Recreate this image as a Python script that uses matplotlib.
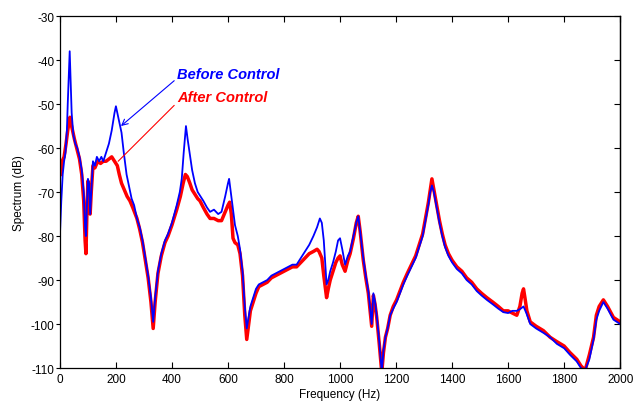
import numpy as np
import matplotlib.pyplot as plt

plt.rcParams['font.family'] = ['Liberation Sans', 'DejaVu Sans']
plt.rcParams['axes.unicode_minus'] = False

# Before control (blue) - frequency (Hz), level (dB)
freq_before = [0, 5, 10, 15, 20, 25, 28, 32, 35, 38, 42, 48, 55, 62, 70, 78, 85, 90, 93, 96,
               100, 104, 108, 112, 118, 125, 132, 140, 148, 155, 165, 175, 185, 195, 200, 205,
               212, 220, 228, 238, 248, 256, 265, 275, 285, 295, 305, 315, 325, 333, 340, 350,
               362, 375, 386, 400, 417, 428, 435, 442, 450, 456, 464, 472, 482, 492, 500, 512,
               525, 536, 550, 565, 577, 590, 600, 604, 610, 618, 625, 635, 643, 652, 660, 667,
               672, 680, 690, 700, 710, 725, 740, 755, 770, 785, 800, 815, 830, 845, 860, 875,
               890, 905, 918, 928, 935, 942, 948, 952, 958, 965, 975, 985, 993, 1000, 1008,
               1018, 1028, 1036, 1048, 1058, 1065, 1072, 1083, 1092, 1101, 1108, 1113, 1119,
               1125, 1131, 1140, 1149, 1155, 1162, 1170, 1179, 1190, 1202, 1214, 1226, 1240,
               1255, 1270, 1285, 1295, 1305, 1315, 1322, 1328, 1335, 1345, 1355, 1365, 1375,
               1387, 1400, 1417, 1435, 1452, 1470, 1488, 1505, 1524, 1545, 1565, 1583, 1600,
               1615, 1631, 1645, 1655, 1665, 1679, 1700, 1726, 1750, 1774, 1800, 1821, 1845,
               1860, 1875, 1890, 1905, 1915, 1925, 1940, 1955, 1976, 2000]
level_before = [-80, -72, -66, -63, -61, -56, -50, -43, -38, -44, -52, -57, -59, -60, -62, -65,
                -70, -78, -80, -74, -67, -68, -75, -70, -63, -64, -62, -63, -62, -63, -61, -59,
                -56, -52, -50.5, -52, -54, -56.5, -61, -66, -69, -71.5, -73, -76, -78, -81, -85,
                -89, -94, -99.5, -94, -88, -84, -81, -79.5, -77, -73, -70, -67, -61, -55, -58,
                -61.5, -65, -68, -70, -70.8, -72, -73.5, -74.5, -74, -75, -74.5, -71, -68, -67,
                -70, -74, -77.5, -80, -83, -88, -96, -101, -99, -96, -94, -92, -91, -90.5, -90,
                -89, -88.5, -88, -87.5, -87, -86.5, -86.5, -85, -83.5, -82, -80, -78, -76, -77,
                -81, -87, -91, -90, -88, -86, -83.5, -81, -80.5, -83, -86.5, -84.5, -83.5, -80,
                -77, -75.5, -79, -85, -89, -92.5, -97, -100, -93, -95, -98, -104, -111, -106,
                -103, -101, -98, -96.5, -95, -93, -91, -89, -87, -85, -82, -80, -76.5, -73, -70,
                -68.5, -70, -73.5, -77, -80, -82.5, -84.5, -86, -87.5, -88.5, -90, -91, -92.5,
                -93.5, -94.5, -95.5, -96.5, -97.3, -97.5, -97, -97, -96.5, -96, -97.5, -100,
                -101, -102, -103, -104.5, -105.5, -107, -108.5, -110, -110.5, -108, -103.5, -99,
                -97, -95, -96.5, -99, -100]

# After control (red)
freq_after = [3, 8, 15, 22, 28, 33, 36, 40, 45, 52, 60, 70, 78, 85, 90, 93, 96, 100, 104, 108,
              112, 118, 125, 135, 145, 155, 165, 175, 185, 195, 205, 212, 220, 230, 240, 250,
              260, 275, 285, 295, 305, 315, 325, 333, 340, 350, 362, 375, 386, 400, 417, 430,
              440, 448, 455, 464, 472, 482, 492, 500, 512, 525, 536, 550, 565, 577, 590, 600,
              606, 612, 618, 625, 635, 643, 652, 660, 667, 672, 680, 690, 700, 710, 725, 740,
              755, 770, 785, 800, 815, 830, 845, 860, 875, 890, 905, 918, 925, 935, 942, 948,
              952, 958, 965, 975, 985, 993, 1000, 1008, 1018, 1028, 1036, 1048, 1058, 1065,
              1072, 1083, 1092, 1101, 1108, 1113, 1119, 1125, 1131, 1140, 1149, 1155, 1162,
              1170, 1179, 1190, 1202, 1214, 1226, 1240, 1255, 1270, 1285, 1295, 1305, 1315,
              1322, 1328, 1335, 1345, 1355, 1365, 1375, 1387, 1400, 1417, 1435, 1452, 1470,
              1488, 1505, 1524, 1545, 1565, 1583, 1600, 1615, 1631, 1642, 1650, 1655, 1660,
              1667, 1679, 1700, 1726, 1750, 1774, 1800, 1821, 1845, 1860, 1875, 1890, 1905,
              1915, 1925, 1940, 1955, 1976, 2000]
level_after = [-66, -63, -62, -59, -56, -54, -53, -54.5, -56, -58, -60, -62.5, -66, -72, -81,
               -84, -76, -67.5, -69, -75, -70, -64, -64.5, -63, -63.5, -63, -63, -62.5, -62,
               -63, -64, -66, -68, -69.5, -71, -72, -73.5, -76, -78.5, -81.5, -85.5, -89.5,
               -95, -101, -95, -88.5, -84.5, -81.5, -80, -77.5, -74, -71, -68, -66, -66.5, -68,
               -69.5, -70.5, -71.5, -72, -73.5, -75, -76, -76, -76.5, -76.5, -74.5, -73, -72.3,
               -75, -80.5, -81.5, -82, -84, -89, -98, -103.5, -101, -97, -95, -93, -91.5, -91,
               -90.5, -89.5, -89, -88.5, -88, -87.5, -87, -87, -86, -85, -84, -83.5, -83, -83.5,
               -85, -89, -92, -94, -92, -90, -88, -86, -85, -84.5, -86.5, -88, -85.5, -84,
               -80.5, -77, -75.5, -79, -85.5, -89.5, -93, -97.5, -100.5, -93.5, -95.5, -98.5,
               -104.5, -111, -106.5, -103, -101, -98, -96, -94.5, -92.5, -90.5, -88.5, -86.5,
               -84.5, -81.5, -79.5, -76, -72.5, -69.5, -67, -69.5, -73, -76.5, -79.5, -82,
               -84, -85.5, -87, -88, -89.5, -90.5, -92, -93, -94, -95, -96, -97, -97, -97.5,
               -98, -96, -93, -92, -94, -97, -99.5, -100.5, -101.5, -103, -104, -105, -106.5,
               -108, -109.5, -110.5, -107, -103, -98, -96, -94.5, -96, -98.5, -99.5]

fig = plt.figure(figsize=(6.44, 4.06), dpi=100)
ax = fig.add_axes([0.093, 0.091, 0.870, 0.867])

ax.plot(freq_after, level_after, color='#ff0000', lw=2.5, solid_joinstyle='round')
ax.plot(freq_before, level_before, color='#0000ff', lw=1.3)

ax.set_xlim(0, 2000)
ax.set_ylim(-110, -30)
ax.set_xticks(np.arange(0, 2001, 200))
ax.set_yticks(np.arange(-110, -29, 10))
ax.tick_params(axis='x', direction='in', top=True, labelsize=8.5, length=4, width=0.8)
ax.tick_params(axis='y', direction='out', right=False, labelsize=8.5, length=3, width=0.8, pad=1)
# right side ticks point inwards
sec = ax.secondary_yaxis('right')
sec.set_yticks(np.arange(-110, -29, 10))
sec.tick_params(direction='in', length=4, width=0.8, labelright=False)
for s in ax.spines.values():
    s.set_linewidth(0.9)
sec.spines['right'].set_linewidth(0.9)

ax.set_xlabel('Frequency (Hz)', fontsize=8.5, labelpad=2)
ax.set_ylabel('Spectrum (dB)', fontsize=8.5, labelpad=4)

# annotations
ax.annotate('Before Control', xy=(218, -55), xytext=(418, -43.2),
            color='#0000ff', fontsize=10.5, fontweight='bold', fontstyle='italic',
            va='center', ha='left',
            arrowprops=dict(arrowstyle='->', color='#0000ff', lw=0.8, shrinkA=0, shrinkB=0,
                            relpos=(0, 0.2)))
ax.annotate('After Control', xy=(208, -63), xytext=(418, -48.4),
            color='#ff0000', fontsize=10.5, fontweight='bold', fontstyle='italic',
            va='center', ha='left',
            arrowprops=dict(arrowstyle='-', color='#ff0000', lw=0.8, shrinkA=0, shrinkB=0,
                            relpos=(0, 0.1)))

fig.savefig('out.png', dpi=100)
